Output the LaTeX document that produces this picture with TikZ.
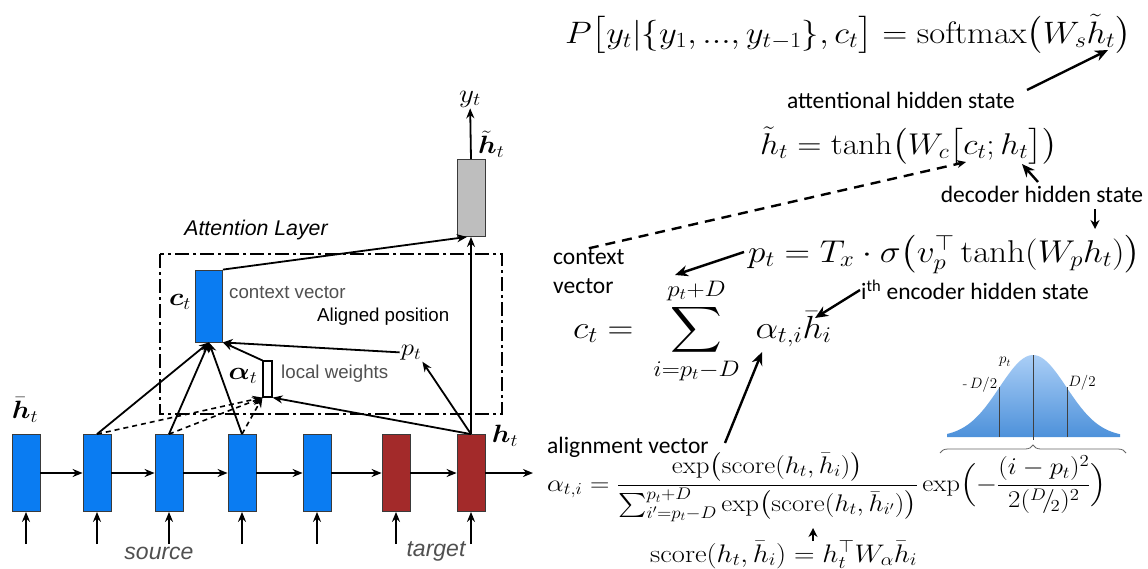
\RequirePackage{fix-cm}
\documentclass[tikz,border=0pt]{standalone}
\usepackage{amsmath,amssymb}
\usepackage{bm}
\usepackage{graphicx}
\usepackage[no-math]{fontspec}
\newfontfamily\notefont{Carlito}
\newfontfamily\diagfont{Liberation Sans}
\usepackage{tikz}
\usetikzlibrary{arrows.meta,positioning,calc,decorations.pathreplacing}
\definecolor{cellBlue}{HTML}{0A7CF2}
\definecolor{cellRed}{HTML}{A32A2A}
\definecolor{cellGray}{HTML}{BEBEBE}
\definecolor{cellEdge}{HTML}{3A3A3A}
\definecolor{labelGray}{HTML}{505050}
\definecolor{bellTop}{HTML}{AACEF6}
\definecolor{bellBottom}{HTML}{4D91DA}
% the slide's math is a little wider than it is tall
\newcommand\stretchx[1]{\scalebox{1.12}[1]{#1}}
\tikzset{
  cell/.style={
    rectangle,
    draw=cellEdge,
    line width=0.8pt,
    minimum width=28pt,
    minimum height=77pt,
    inner sep=0pt
  },
  arrow/.style={
    -{Stealth[length=10pt,width=8pt]},
    line width=1.8pt
  },
  dashedArrow/.style={
    -{Stealth[length=10pt,width=8pt]},
    line width=1.6pt,
    dash pattern=on 5pt off 4pt
  },
  layerbox/.style={
    line width=1.7pt,
    dash pattern=on 14pt off 4pt on 3pt off 4pt
  },
  noteArrow/.style={
    -{Stealth[length=13pt,width=11pt]},
    line width=2.4pt
  },
  smallArrow/.style={
    -{Stealth[length=9pt,width=9pt]},
    line width=2.2pt
  },
  contextArrow/.style={
    -{Stealth[length=9pt,width=8pt]},
    line width=2.4pt,
    dash pattern=on 10pt off 7pt
  },
  formula/.style={
    anchor=base west,
    inner sep=0pt,
    font=\fontsize{31}{36}\selectfont
  },
  note/.style={
    inner sep=1pt,
    font={\notefont\fontsize{23.5}{29}\selectfont}
  },
  diaglabel/.style={
    inner sep=0pt,
    text=labelGray,
    font={\diagfont\fontsize{18.7}{22}\selectfont}
  },
  iolabel/.style={
    inner sep=0pt,
    text=labelGray,
    font={\diagfont\itshape\fontsize{23}{26}\selectfont}
  },
  mathlabel/.style={
    inner sep=1pt,
    font=\fontsize{25}{30}\selectfont
  },
  bellLine/.style={
    draw=black!75,
    line width=0.8pt
  },
  bellLabel/.style={
    inner sep=0pt,
    font=\fontsize{15}{18}\selectfont
  }
}

\begin{document}
\begin{tikzpicture}[x=1pt,y=-1pt]
  \path[use as bounding box,fill=white] (0,0) rectangle (1148,568);

  % recurrent cells, source then target
  \foreach \nm/\xx/\col in {enc1/26/cellBlue,enc2/97/cellBlue,enc3/169/cellBlue,enc4/242/cellBlue,enc5/317/cellBlue,dec1/396/cellRed,dec2/471/cellRed}{
    \node[cell,fill=\col] (\nm) at (\xx,473) {};
    \coordinate (\nm-in) at (\xx,544);
    \draw[arrow] (\nm-in) -- (\nm.south);
  }
  \coordinate (out) at (533,473);
  \foreach \a/\b in {enc1/enc2,enc2/enc3,enc3/enc4,enc4/enc5,enc5/dec1,dec1/dec2,dec2/out}
    \draw[arrow] (\a) -- (\b);

  \node[cell,fill=cellGray] (att) at (471,198) {};
  \node[cell,fill=cellBlue,minimum width=27pt,minimum height=72pt] (ctx) at (209,306) {};
  \node[draw,line width=1.2pt,minimum width=9pt,minimum height=36pt,inner sep=0pt] (alpha) at (267.5,379) {};
  \draw[layerbox] (160,254) rectangle (502,414);

  \node[mathlabel,font=\fontsize{26}{30}\selectfont] (yt) at (470,99) {\stretchx{$y_t$}};
  \node[mathlabel,anchor=west] (htil) at (477,144) {\stretchx{$\tilde{\bm h}_t$}};
  \node[mathlabel] (ctlab) at (180,302) {\stretchx{$\bm c_t$}};
  \node[mathlabel] (hbarlab) at (25,410) {\stretchx{$\bar{\bm h}_t$}};
  \node[mathlabel] (htlab) at (505,436) {\stretchx{$\bm h_t$}};
  \node[mathlabel] (alab) at (243,376) {\stretchx{$\bm\alpha_t$}};
  \node[mathlabel,font=\fontsize{24}{28}\selectfont] (pt) at (411,353) {\stretchx{$p_t$}};

  \node[diaglabel,anchor=west] (ctxlab) at (229,293) {context vector};
  \node[diaglabel,anchor=west,text=black] (alignlab) at (317,317) {Aligned position};
  \node[diaglabel,anchor=west] (weightlab) at (281,374) {local weights};
  \node[iolabel,text=black,font={\diagfont\itshape\fontsize{21.3}{25}\selectfont}] (layerlab) at (256,230) {Attention Layer};
  \node[iolabel] (srclab) at (159,553) {source};
  \node[iolabel] (tgtlab) at (436,551) {target};

  % attention arrows
  \draw[arrow] (att.north) -- (yt);
  \draw[arrow] (dec2.north) -- (att.south);
  \draw[arrow] (ctx.north east) -- ($(att.south)+(-4,0)$);
  \foreach \nm in {enc2,enc3,enc4}{
    \draw[arrow] (\nm.north) -- (ctx.south);
    \draw[dashedArrow] (\nm.north) -- (alpha.south west);
  }
  \draw[arrow] (alpha.north west) -- (ctx.south east);
  \draw[arrow] (pt) -- (ctx.south east);
  \draw[arrow] (dec2.north) -- (pt.south east);
  \draw[arrow] (dec2.north) -- (alpha.south east);

  % equations
  \node[formula] (softeq) at (565,43) {\stretchx{$P\bigl[y_t|\{y_1,...,y_{t-1}\},c_t\bigr] = \mathrm{softmax}\bigl(W_s\tilde{h}_t\bigr)$}};
  \node[note] (attnote) at (901,100) {attentional hidden state};
  \coordinate (attFrom) at (1027,90);
  \coordinate (softTip) at (1108,50);
  \draw[noteArrow] (attFrom) -- (softTip);

  \node[formula,font=\fontsize{30}{36}\selectfont] (tanheq) at (760,154) {\stretchx{$\tilde{h}_t = \tanh\bigl(W_c\bigl[c_t;h_t\bigr]\bigr)$}};
  \node[note] (decnote) at (1042,194) {decoder hidden state};
  \coordinate (decFrom) at (1038,182);
  \coordinate (hTip) at (1022,164);
  \draw[noteArrow] (decFrom) -- (hTip);
  \coordinate (decDown) at (1095,209);
  \coordinate (whTip) at (1095,229);
  \draw[smallArrow] (decDown) -- (whTip);

  \node[note,align=left,anchor=west] (ctxnote) at (552,271.5) {context\\vector};
  \coordinate (wcTip) at (966,162);
  \draw[contextArrow] (ctxnote.north) -- (wcTip);

  \node[formula,font=\fontsize{31.5}{36}\selectfont] (pteq) at (748,262) {\stretchx{$p_t = T_x\cdot\sigma\bigl(v_p^{\top}\tanh(W_ph_t)\bigr)$}};
  \coordinate (ptFrom) at (744,252);
  \coordinate (limTip) at (675,275);
  \draw[noteArrow] (ptFrom) -- (limTip);

  \node[formula,font=\fontsize{32}{36}\selectfont] (sumeq) at (573,338) {\stretchx{$\displaystyle c_t = \;\sum_{i=p_t-D}^{p_t+D}\;\alpha_{t,i}\bar{h}_i$}};
  \node[note,anchor=west] (encnote) at (860,290) {i\textsuperscript{th} encoder hidden state};
  \coordinate (hbarTip) at (815,318);
  \draw[noteArrow] (encnote.west) -- (hbarTip);

  \node[note,anchor=west] (alignnote) at (546,447) {alignment vector};
  \coordinate (alignFrom) at (725,443);
  \coordinate (alphaTip) at (762,352);
  \draw[noteArrow] (alignFrom) -- (alphaTip);

  \node[formula,font=\fontsize{24}{28}\selectfont] (fraceq) at (547,491) {\stretchx{$\displaystyle \alpha_{t,i} = \frac{\exp\bigl(\mathrm{score}(h_t,\bar{h}_i)\bigr)}{\sum_{i'=p_t-D}^{p_t+D}\exp\bigl(\mathrm{score}(h_t,\bar{h}_{i'})\bigr)}\exp\Bigl(-\frac{(i-p_t)^2}{2({}^{D}\!/\!{}_{2})^2}\Bigr)$}};
  \node[formula,font=\fontsize{25.4}{30}\selectfont] (scoreeq) at (650,562) {\stretchx{$\mathrm{score}(h_t,\bar{h}_i) = h_t^{\top}W_\alpha\bar{h}_i$}};
  \coordinate (scoreFrom) at (813,541);
  \coordinate (scoreTip) at (813,528);
  \draw[smallArrow] (scoreFrom) -- (scoreTip);

  % gaussian window
  \shade[top color=bellTop,bottom color=bellBottom] (947,437) -- plot[domain=-86:87,samples=60] ({1033+\x},{437-82*exp(-(\x*\x)/2244.5)}) -- (1120,437) -- cycle;
  \draw[bellLine] (1033,355) -- (1033,440);
  \draw[bellLine] (999,387) -- (999,437);
  \draw[bellLine] (1067,387) -- (1067,437);
  \node[bellLabel] (bellpt) at (1005,362) {$p_t$};
  \node[bellLabel] (bellleft) at (980,385) {$\text{-}\,D/2$};
  \node[bellLabel] (bellright) at (1082,383) {$D/2$};
  \draw[bellLine,draw=black!60,decorate,decoration={brace,amplitude=8pt}] (940,453) -- (1126,453);
\end{tikzpicture}
\end{document}
